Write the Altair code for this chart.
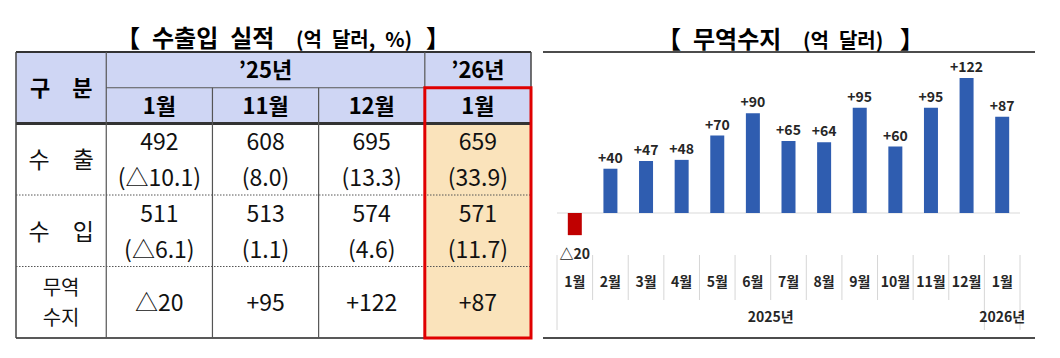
import altair as alt
import pandas as pd

FONT = "Noto Sans CJK KR"

# ---------------- table data ----------------
tbl_year_headers = ["’25년", "’26년"]
tbl_months = ["1월", "11월", "12월", "1월"]
tbl_corner = "구\u3000분"
row_labels = ["수\u3000출", "수\u3000입"]
balance_row_label = ["무역", "수지"]
export_vals = [492, 608, 695, 659]
export_pct = [-10.1, 8.0, 13.3, 33.9]
import_vals = [511, 513, 574, 571]
import_pct = [-6.1, 1.1, 4.6, 11.7]
balance_tbl = [-20, 95, 122, 87]

# ---------------- chart data ----------------
chart_months = ["1월", "2월", "3월", "4월", "5월", "6월", "7월", "8월", "9월", "10월", "11월", "12월", "1월"]
chart_years = ["2025년"] * 12 + ["2026년"]
balance_series = [-20, 40, 47, 48, 70, 90, 65, 64, 95, 60, 95, 122, 87]


def fmt_pct(v):
    return f"(△{abs(v):.1f})" if v < 0 else f"({v:.1f})"


def fmt_bal(v):
    return f"△{abs(v)}" if v < 0 else f"+{v}"


# ---------------- table layout (table units) ----------------
COL_EDGES = [0, 0.85, 1.85, 2.85, 3.85, 4.85]
TX = alt.Scale(domain=[0, 4.85], range=[16, 531])
TY = alt.Scale(domain=[0, 8], range=[52, 338])
centers = [(COL_EDGES[i] + COL_EDGES[i + 1]) / 2 for i in range(5)]
END = COL_EDGES[-1]

BLUE_HDR = "#CFD6F4"
BEIGE = "#FAE3BB"


def xq(f):
    return alt.X(f"{f}:Q", scale=TX, axis=None)


def yq(f):
    return alt.Y(f"{f}:Q", scale=TY, axis=None)


fills = pd.DataFrame([
    dict(x=0, x2=COL_EDGES[1], y=0, y2=2, fill=BLUE_HDR),
    dict(x=COL_EDGES[1], x2=COL_EDGES[4], y=0, y2=1, fill=BLUE_HDR),
    dict(x=COL_EDGES[4], x2=END, y=0, y2=1, fill=BLUE_HDR),
] + [dict(x=COL_EDGES[i], x2=COL_EDGES[i + 1], y=1, y2=2, fill=BLUE_HDR) for i in range(1, 5)]
  + [dict(x=COL_EDGES[4], x2=END, y=2, y2=8, fill=BEIGE)])

fill_layer = alt.Chart(fills).mark_rect().encode(
    x=xq("x"), x2="x2:Q", y=yq("y"), y2="y2:Q",
    color=alt.Color("fill:N", scale=None),
)

lines = pd.DataFrame([
    dict(x=0, x2=END, y=0, y2=0, w=2.0, c="#333333"),
    dict(x=COL_EDGES[1], x2=END, y=1, y2=1, w=1.0, c="#555555"),
    dict(x=0, x2=END, y=2, y2=2, w=3.0, c="#333333"),
    dict(x=0, x2=END, y=8, y2=8, w=1.5, c="#222222"),
    dict(x=0, x2=0, y=0, y2=8, w=1.5, c="#444444"),
    dict(x=COL_EDGES[1], x2=COL_EDGES[1], y=0, y2=8, w=1.2, c="#555555"),
    dict(x=COL_EDGES[2], x2=COL_EDGES[2], y=1, y2=8, w=1.2, c="#555555"),
    dict(x=COL_EDGES[3], x2=COL_EDGES[3], y=1, y2=8, w=1.2, c="#555555"),
    dict(x=COL_EDGES[4], x2=COL_EDGES[4], y=0, y2=8, w=1.2, c="#555555"),
    dict(x=END, x2=END, y=0, y2=8, w=1.5, c="#444444"),
])
line_layer = alt.Chart(lines).mark_rule().encode(
    x=xq("x"), x2="x2:Q", y=yq("y"), y2="y2:Q",
    color=alt.Color("c:N", scale=None),
    strokeWidth=alt.StrokeWidth("w:Q", scale=None),
)

dots = pd.DataFrame([dict(x=0, x2=END, y=4), dict(x=0, x2=END, y=6)])
dot_layer = alt.Chart(dots).mark_rule(color="#555555", strokeWidth=1, strokeDash=[1.5, 1.5]).encode(
    x=xq("x"), x2="x2:Q", y=yq("y"),
)

redbox = pd.DataFrame([dict(x=COL_EDGES[4], x2=END, y=1, y2=8)])
red_layer = alt.Chart(redbox).mark_rect(filled=False, stroke="#E00000", strokeWidth=3).encode(
    x=xq("x"), x2="x2:Q", y=yq("y"), y2="y2:Q",
)

hdr = [dict(t=tbl_corner, x=centers[0], y=1.0),
       dict(t=tbl_year_headers[0], x=(COL_EDGES[1] + COL_EDGES[4]) / 2, y=0.5),
       dict(t=tbl_year_headers[1], x=centers[4], y=0.5)]
hdr += [dict(t=m, x=centers[i + 1], y=1.5) for i, m in enumerate(tbl_months)]
hdr_layer = alt.Chart(pd.DataFrame(hdr)).mark_text(
    font=FONT, fontSize=22, fontWeight="bold", color="#000000", baseline="middle", dy=1
).encode(x=xq("x"), y=yq("y"), text="t:N")

body = []
for i in range(4):
    cx_ = centers[i + 1]
    body.append(dict(t=str(export_vals[i]), x=cx_, y=2.5))
    body.append(dict(t=fmt_pct(export_pct[i]), x=cx_, y=3.5))
    body.append(dict(t=str(import_vals[i]), x=cx_, y=4.5))
    body.append(dict(t=fmt_pct(import_pct[i]), x=cx_, y=5.5))
    body.append(dict(t=fmt_bal(balance_tbl[i]), x=cx_, y=7.0))
body.append(dict(t=row_labels[0], x=centers[0], y=3.0))
body.append(dict(t=row_labels[1], x=centers[0], y=5.0))
body_layer = alt.Chart(pd.DataFrame(body)).mark_text(
    font=FONT, fontSize=23, color="#111111", baseline="middle", dy=2
).encode(x=xq("x"), y=yq("y"), text="t:N")

# two-line row label "무역 / 수지"
bal_lbl = pd.DataFrame([dict(t=balance_row_label[0], x=centers[0], y=6.58),
                        dict(t=balance_row_label[1], x=centers[0], y=7.42)])
bal_lbl_layer = alt.Chart(bal_lbl).mark_text(
    font=FONT, fontSize=20, color="#111111", baseline="middle", dy=2
).encode(x=xq("x"), y=yq("y"), text="t:N")

table = alt.layer(fill_layer, line_layer, dot_layer, red_layer, hdr_layer, body_layer, bal_lbl_layer)

# ---------------- bar chart ----------------
n = len(balance_series)
CX = alt.Scale(domain=[-0.5, n - 0.5], range=[552, 1025])
CY = alt.Scale(domain=[-40, 140], range=[257.3, 58], zero=False, nice=False)

cdf = pd.DataFrame({
    "idx": list(range(n)),
    "month": chart_months,
    "year": chart_years,
    "value": balance_series,
    "label": [fmt_bal(v) for v in balance_series],
    "zero": [0] * n,
})


def cx(f):
    return alt.X(f"{f}:Q", scale=CX, axis=None)


def cy(f):
    return alt.Y(f"{f}:Q", scale=CY, axis=None)


zero_df = pd.DataFrame({"x": [-0.5], "x2": [n - 0.5], "y": [0]})
zero_rule = alt.Chart(zero_df).mark_rule(color="#D9D9D9", strokeWidth=1).encode(
    x=cx("x"), x2="x2:Q", y=cy("y"))

bars = alt.Chart(cdf).mark_bar(size=14, orient="vertical").encode(
    x=cx("idx"), y=cy("value"), y2="zero:Q",
    color=alt.condition(alt.datum.value < 0, alt.value("#C00000"), alt.value("#2F5DB0")),
)

pos_labels = alt.Chart(cdf).transform_filter(alt.datum.value >= 0).mark_text(
    font=FONT, fontSize=14, fontWeight="bold", color="#262626", baseline="bottom", dy=-3
).encode(x=cx("idx"), y=cy("value"), text="label:N")

neg_labels = alt.Chart(cdf).transform_filter(alt.datum.value < 0).mark_text(
    font=FONT, fontSize=14, fontWeight="bold", color="#262626", baseline="top", dy=13
).encode(x=cx("idx"), y=cy("value"), text="label:N")

month_labels = alt.Chart(cdf).mark_text(
    font=FONT, fontSize=14, fontWeight="bold", color="#262626", baseline="middle", dy=1
).encode(x=cx("idx"), y=alt.value(282), text="month:N")

year_labels = alt.Chart(cdf).mark_text(
    font=FONT, fontSize=14, fontWeight="bold", color="#262626", baseline="middle"
).encode(x=alt.X("mean(idx):Q", scale=CX, axis=None), y=alt.value(318), text="year:N")

# separators between categories (long ones at year boundaries)
bounds = []
for i in range(n):
    long_ = i == 0 or chart_years[i] != chart_years[i - 1]
    bounds.append(dict(b=i - 0.5, long=long_))
bounds.append(dict(b=n - 0.5, long=True))
bdf = pd.DataFrame(bounds)
short_sep = alt.Chart(bdf).transform_filter("!datum.long").mark_rule(
    color="#D6D6D6", strokeWidth=1).encode(x=cx("b"), y=alt.value(255), y2=alt.value(300))
long_sep = alt.Chart(bdf).transform_filter("datum.long").mark_rule(
    color="#D6D6D6", strokeWidth=1).encode(x=cx("b"), y=alt.value(255), y2=alt.value(330))

barchart = alt.layer(zero_rule, short_sep, long_sep, bars, pos_labels, neg_labels,
                     month_labels, year_labels)

# ---------------- titles & frame lines ----------------
def title_piece(text, x, size, y=47):
    return alt.Chart(pd.DataFrame({"t": [text]})).mark_text(
        font=FONT, fontSize=size, fontWeight="bold", color="#000000", align="left",
        baseline="alphabetic"
    ).encode(x=alt.value(x), y=alt.value(y), text="t:N")


titles = alt.layer(
    title_piece("【\u2002수출입\u2002실적", 116, 24),
    title_piece("(억\u2002달러,\u2002%)", 296, 20),
    title_piece("】", 426, 24),
    title_piece("【\u2002무역수지", 657, 24, 48),
    title_piece("(억\u2002달러)", 803, 20, 48),
    title_piece("】", 900, 24, 48),
)

frame = alt.Chart(pd.DataFrame({"y": [52, 338]})).mark_rule(color="#111111", strokeWidth=1.5).encode(
    x=alt.value(543), x2=alt.value(1035), y=alt.Y("y:Q", scale=None, axis=None))

chart = alt.layer(table, barchart, titles, frame).resolve_scale(
    x="independent", y="independent"
).properties(
    width=1060, height=358, padding=0,
    autosize=alt.AutoSizeParams(type="none"),
    background="white",
).configure_view(stroke=None)

chart.save("out.html", embed_options={"renderer": "svg", "actions": False})
